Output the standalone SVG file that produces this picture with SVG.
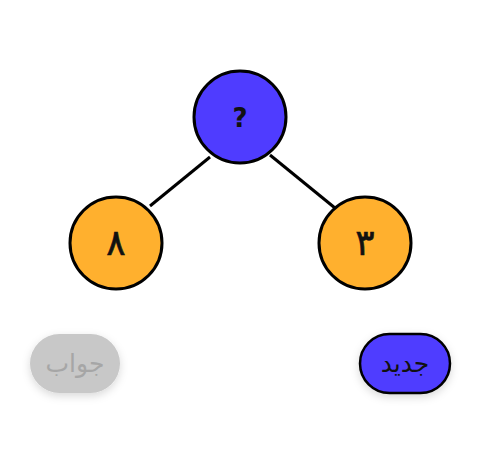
<svg xmlns="http://www.w3.org/2000/svg" width="480" height="470" viewBox="0 0 480 470">
<defs>
<style>
.node{stroke:#000;stroke-width:3}
.blue{fill:#4f3cff}
.orange{fill:#ffb02e}
.lbl{font-family:"DejaVu Sans",sans-serif;font-weight:bold;font-size:26px;text-anchor:middle;fill:#111}
.dig{font-family:"DejaVu Sans",sans-serif;font-size:36px;text-anchor:middle;fill:#111;stroke:#111;stroke-width:0.6}
.edge{stroke:#000;stroke-width:3;stroke-linecap:butt}
.btxt{font-family:"DejaVu Sans",sans-serif;font-size:25px;text-anchor:middle}
</style>
<filter id="sh" x="-30%" y="-30%" width="160%" height="170%">
<feDropShadow dx="0" dy="3" stdDeviation="4" flood-color="#000" flood-opacity="0.15"/>
</filter>
</defs>
<rect width="480" height="470" fill="#fff"/>
<g id="connectors">
<line class="edge" x1="210" y1="157" x2="150" y2="206"/>
<line class="edge" x1="270" y1="155" x2="335" y2="208"/>
</g>
<g id="node-root">
<circle class="node blue" cx="240" cy="117" r="46"/>
<text class="lbl" x="240" y="127">?</text>
</g>
<g id="node-left">
<circle class="node orange" cx="116" cy="243" r="46"/>
<text class="dig" x="116" y="255">۸</text>
</g>
<g id="node-right">
<circle class="node orange" cx="365" cy="243" r="46"/>
<text class="dig" x="365" y="255">۳</text>
</g>
<g id="btn-answer">
<rect x="30" y="334" width="90" height="59" rx="29.5" fill="#c8c8c8" filter="url(#sh)"/>
<text class="btxt" x="75" y="372" fill="#a6a6a6">جواب</text>
</g>
<g id="btn-new">
<rect x="360" y="334" width="90" height="59" rx="29.5" class="blue" stroke="#000" stroke-width="2.5" filter="url(#sh)"/>
<text class="btxt" x="405" y="372" fill="#111">جدید</text>
</g>
</svg>
